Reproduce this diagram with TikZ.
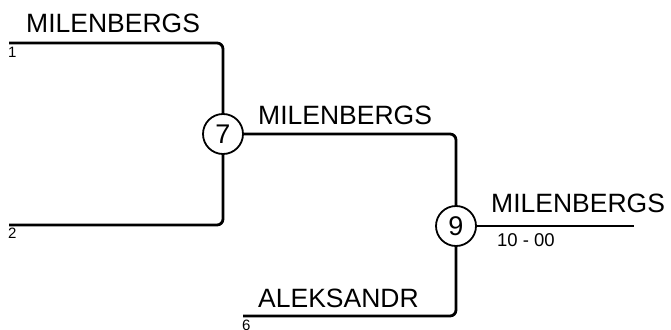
\documentclass[tikz,border=0pt]{standalone}
\usepackage{fontspec}
\setmainfont{Liberation Sans}
\usetikzlibrary{positioning}
\tikzset{
  bracketline/.style={line width=2.8pt, rounded corners=6pt},
  gamenode/.style={circle, draw, line width=1.8pt, minimum size=40pt, inner sep=0pt,
                   font=\fontsize{27}{27}\selectfont},
  teamname/.style={anchor=base west, inner sep=0pt, font=\fontsize{26.5}{26.5}\selectfont},
  seedno/.style={anchor=north west, inner sep=0pt, font=\fontsize{15}{15}\selectfont},
  scoretext/.style={anchor=north west, inner sep=0pt, font=\fontsize{18.5}{18.5}\selectfont}
}

\begin{document}
\begin{tikzpicture}[x=1pt, y=-1pt]
  \useasboundingbox (0,0) rectangle (671,329);

  \node[gamenode] (g7) at (223,134) {7};
  \node[gamenode] (g9) at (456,226) {9};

  \coordinate (s1) at (9,43);
  \coordinate (s2) at (9,225);
  \coordinate (s6) at (243,316);
  \coordinate (win) at (634,226);

  \draw[bracketline] (s1) -| (g7.north);
  \draw[bracketline] (s2) -| (g7.south);
  \draw[bracketline] (g7.east) -| (g9.north);
  \draw[bracketline] (s6) -| (g9.south);
  \draw[bracketline] (g9.east) -- (win);

  \node[teamname] (t1) at (26,33) {MILENBERGS};
  \node[teamname] (t7) at (258,124) {MILENBERGS};
  \node[teamname] (t9) at (491,212) {MILENBERGS};
  \node[teamname] (t6) at (258,307) {ALEKSANDR};

  \node[seedno] (n1) at (8,47) {1};
  \node[seedno] (n2) at (8,228) {2};
  \node[seedno] (n6) at (242,320) {6};
  \node[scoretext] (sc) at (497,233) {10 - 00};
\end{tikzpicture}
\end{document}
